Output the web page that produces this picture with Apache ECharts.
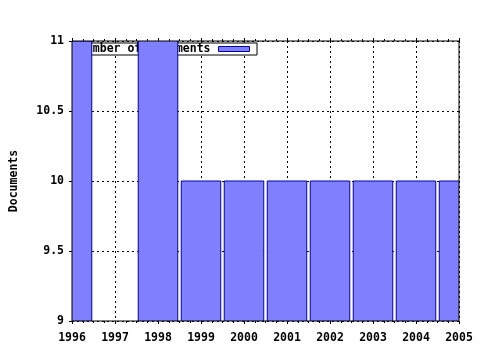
<!DOCTYPE html>
<html><head><meta charset="utf-8">
<script src="https://cdn.jsdelivr.net/npm/echarts@6/dist/echarts.min.js"></script>
<style>html,body{margin:0;padding:0;background:#fff}#c{width:480px;height:350px}</style>
</head><body><div id="c"></div>
<script>
const years = [1996, 1997, 1998, 1999, 2000, 2001, 2002, 2003, 2004, 2005];
const documents = [11, 0, 12, 10, 10, 10, 10, 10, 10, 10];
const yTicks = [9, 9.5, 10, 10.5, 11];
const seriesName = 'Number of documents';
const yTitle = 'Documents';

const font = '"DejaVu Sans Mono", "Liberation Mono", monospace';
const fs = 11.5;
const fill = '#8080ff', edge = '#0000a8';
const chart = echarts.init(document.getElementById('c'), null, {renderer: 'canvas'});
const dotted = {show: true, lineStyle: {color: '#000', type: [2, 3], width: 1}};
const barFraction = 0.92;
chart.setOption({
  animation: false,
  backgroundColor: '#fff',
  grid: {left: 71, right: 21, top: 41, bottom: 29, show: true, borderColor: '#000', borderWidth: 1, z: 5,
    backgroundColor: 'transparent'},
  legend: {
    data: [{name: seriesName, icon: 'rect', itemStyle: {color: fill, borderColor: edge, borderWidth: 1}}],
    right: 223, top: 43, z: 1, zlevel: 0,
    align: 'right', itemWidth: 31, itemHeight: 5, itemGap: 8,
    backgroundColor: '#fff', borderColor: '#000', borderWidth: 1,
    padding: [0, 7, 0, 6],
    textStyle: {fontFamily: font, fontWeight: 'bold', fontSize: fs, color: '#000', lineHeight: 12,
      padding: [0, 3, 0, 0]}
  },
  xAxis: [{
    type: 'value', min: years[0], max: years[years.length - 1], interval: 1,
    axisLine: {show: false},
    axisTick: {show: true, inside: false, length: 3, lineStyle: {color: '#000'}},
    minorTick: {show: true, splitNumber: 4, length: 2, lineStyle: {color: '#000'}},
    axisLabel: {fontFamily: font, fontWeight: 'bold', fontSize: fs, color: '#000', margin: 11,
      formatter: v => String(v)},
    splitLine: dotted, z: 0
  }, {
    type: 'value', position: 'top', min: years[0], max: years[years.length - 1], interval: 1,
    axisLine: {show: false},
    axisTick: {show: true, inside: false, length: 3, lineStyle: {color: '#000'}},
    minorTick: {show: true, splitNumber: 4, length: 2, lineStyle: {color: '#000'}},
    axisLabel: {show: false}, splitLine: {show: false}, z: 0
  }],
  yAxis: {
    type: 'value', min: yTicks[0], max: yTicks[yTicks.length - 1], interval: yTicks[1] - yTicks[0],
    name: yTitle, nameLocation: 'middle', nameGap: 52, nameRotate: 90,
    nameTextStyle: {fontFamily: font, fontWeight: 'bold', fontSize: fs, color: '#000'},
    axisLine: {show: false},
    axisTick: {show: true, inside: false, length: 3, lineStyle: {color: '#000'}},
    axisLabel: {fontFamily: font, fontWeight: 'bold', fontSize: fs, color: '#000', margin: 8},
    splitLine: dotted, z: 0
  },
  series: [{
    name: seriesName, type: 'custom', z: 3, clip: true,
    itemStyle: {color: fill},
    encode: {x: 0, y: 1},
    renderItem: (params, api) => {
      const x = api.value(0), v = api.value(1);
      if (!(v > 0)) return null;
      const w = api.size([1, 0])[0] * barFraction;
      const top = api.coord([x, v]);
      const base = api.coord([x, 0]);
      return {
        type: 'rect',
        shape: {x: top[0] - w / 2, y: top[1], width: w, height: base[1] - top[1]},
        style: {fill: fill, stroke: edge, lineWidth: 1}
      };
    },
    data: years.map((y, i) => [y, documents[i]])
  }]
});
</script></body></html>
